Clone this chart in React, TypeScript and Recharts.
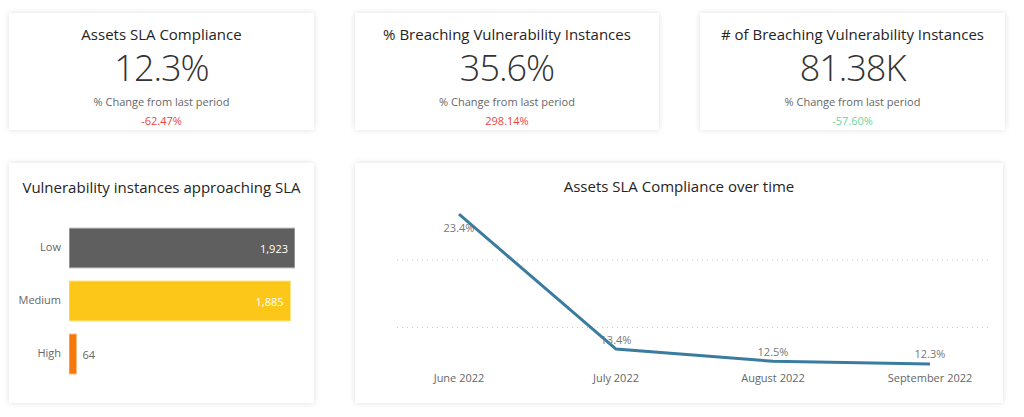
import React from "react";
import {
	Bar,
	BarChart,
	CartesianGrid,
	Cell,
	LabelList,
	Line,
	LineChart,
	XAxis,
	YAxis,
} from "recharts";

const FONT = "'Segoe UI', 'Open Sans', sans-serif";

// KPI cards
const kpiTitles = [
	"Assets SLA Compliance",
	"% Breaching Vulnerability Instances",
	"# of Breaching Vulnerability Instances",
];
const kpiValues = ["12.3%", "35.6%", "81.38K"];
const kpiChanges = ["-62.47%", "298.14%", "-57.60%"];
const kpiChangeColors = ["#e8453c", "#e8453c", "#6fd39c"];

// bar chart
const severities = ["Low", "Medium", "High"];
const approaching = [1923, 1885, 64];
const severityColors = ["#5f5f5f", "#fcc719", "#f7790b"];
const severityBorders = ["#c8c8c8", "#fde68a", "#fbbf80"];

// line chart
const months = ["June 2022", "July 2022", "August 2022", "September 2022"];
const compliance = [23.4, 13.4, 12.5, 12.3];
const complianceTicks = [15, 20];

const barData = severities.map((name, i) => ({ name, value: approaching[i] }));
const lineData = months.map((month, i) => ({ month, value: compliance[i] }));

const cardStyle: React.CSSProperties = {
	position: "absolute",
	background: "#fff",
	boxShadow: "0 0 6px rgba(0,0,0,0.13)",
	fontFamily: FONT,
};

const cards = [
	{ left: 9, top: 13, width: 305 },
	{ left: 355, top: 13, width: 304 },
	{ left: 700, top: 13, width: 305 },
];

const BarValueLabel = (props: any) => {
	const { x, y, width, height, value } = props;
	const inside = width > 40;
	return (
		<text
			x={inside ? x + width - 7 : x + width + 6}
			y={y + height / 2}
			textAnchor={inside ? "end" : "start"}
			dominantBaseline="central"
			fontSize={11}
			fontFamily={FONT}
			fill={inside ? "#ffffff" : "#666666"}
		>
			{value.toLocaleString("en-US")}
		</text>
	);
};

const LineValueLabel = (props: any) => {
	const { x, y, value, index } = props;
	return (
		<text
			x={x}
			y={index === 0 ? y + 13 : y - 10}
			textAnchor="middle"
			dominantBaseline="central"
			fontSize={11}
			fontFamily={FONT}
			fill="#777777"
		>
			{value.toFixed(1)}%
		</text>
	);
};

const titleStyle: React.CSSProperties = {
	position: "absolute",
	left: 0,
	right: 0,
	textAlign: "center",
	fontSize: 15,
	lineHeight: "20px",
	color: "#252423",
	fontWeight: 400,
	whiteSpace: "nowrap",
};

export default function App() {
	return (
		<div
			style={{
				position: "absolute",
				left: 0,
				top: 0,
				width: 1024,
				height: 417,
				background: "#ffffff",
				overflow: "hidden",
			}}
		>
			{cards.map((c, i) => (
				<div key={i} style={{ ...cardStyle, ...c, height: 117 }}>
					<div style={{ ...titleStyle, top: 11 }}>{kpiTitles[i]}</div>
					<div
						style={{
							...titleStyle,
							top: 37,
							fontSize: 36,
							lineHeight: "36px",
							fontWeight: 300,
							letterSpacing: "-1px",
							color: "#333333",
						}}
					>
						{kpiValues[i]}
					</div>
					<div
						style={{
							...titleStyle,
							top: 82,
							fontSize: 11,
							lineHeight: "14px",
							color: "#666666",
						}}
					>
						% Change from last period
					</div>
					<div
						style={{
							...titleStyle,
							top: 101,
							fontSize: 11,
							lineHeight: "14px",
							color: kpiChangeColors[i],
						}}
					>
						{kpiChanges[i]}
					</div>
				</div>
			))}

			<div style={{ ...cardStyle, left: 9, top: 163, width: 305, height: 240 }}>
				<div style={{ ...titleStyle, top: 14 }}>
					Vulnerability instances approaching SLA
				</div>
				<BarChart
					width={305}
					height={240}
					data={barData}
					layout="vertical"
					margin={{ top: 58, right: 19, bottom: 23, left: 0 }}
					style={{ position: "absolute", left: 0, top: 0 }}
				>
					<XAxis type="number" hide domain={[0, 1923]} allowDataOverflow />
					<YAxis
						type="category"
						dataKey="name"
						width={60}
						axisLine={false}
						tickLine={false}
						tickSize={0}
						tickMargin={8}
						tick={{ fontSize: 11, fill: "#666666", fontFamily: FONT }}
					/>
					<Bar dataKey="value" barSize={40} isAnimationActive={false}>
						{barData.map((d, i) => (
							<Cell
								key={d.name}
								fill={severityColors[i]}
								stroke={severityBorders[i]}
								strokeWidth={1}
							/>
						))}
						<LabelList dataKey="value" content={<BarValueLabel />} />
					</Bar>
				</BarChart>
			</div>

			<div style={{ ...cardStyle, left: 355, top: 163, width: 648, height: 240 }}>
				<div style={{ ...titleStyle, top: 13 }}>
					Assets SLA Compliance over time
				</div>
				<LineChart
					width={648}
					height={240}
					data={lineData}
					margin={{ top: 43, right: 13, bottom: 5, left: 42 }}
					style={{ position: "absolute", left: 0, top: 0 }}
				>
					<CartesianGrid
						vertical={false}
						horizontalValues={complianceTicks}
						stroke="#c8c8c8"
						strokeDasharray="1 4"
					/>
					<XAxis
						dataKey="month"
						axisLine={false}
						tickLine={false}
						tickSize={0}
						tickMargin={6}
						height={30}
						padding={{ left: 62, right: 60 }}
						tick={{ fontSize: 11, fill: "#666666", fontFamily: FONT }}
					/>
					<YAxis
						hide
						domain={[12, 24]}
						ticks={complianceTicks}
						allowDataOverflow
					/>
					<Line
						type="linear"
						dataKey="value"
						stroke="#3a7ca0"
						strokeWidth={3}
						dot={false}
						isAnimationActive={false}
					>
						<LabelList dataKey="value" content={<LineValueLabel />} />
					</Line>
				</LineChart>
			</div>
		</div>
	);
}
